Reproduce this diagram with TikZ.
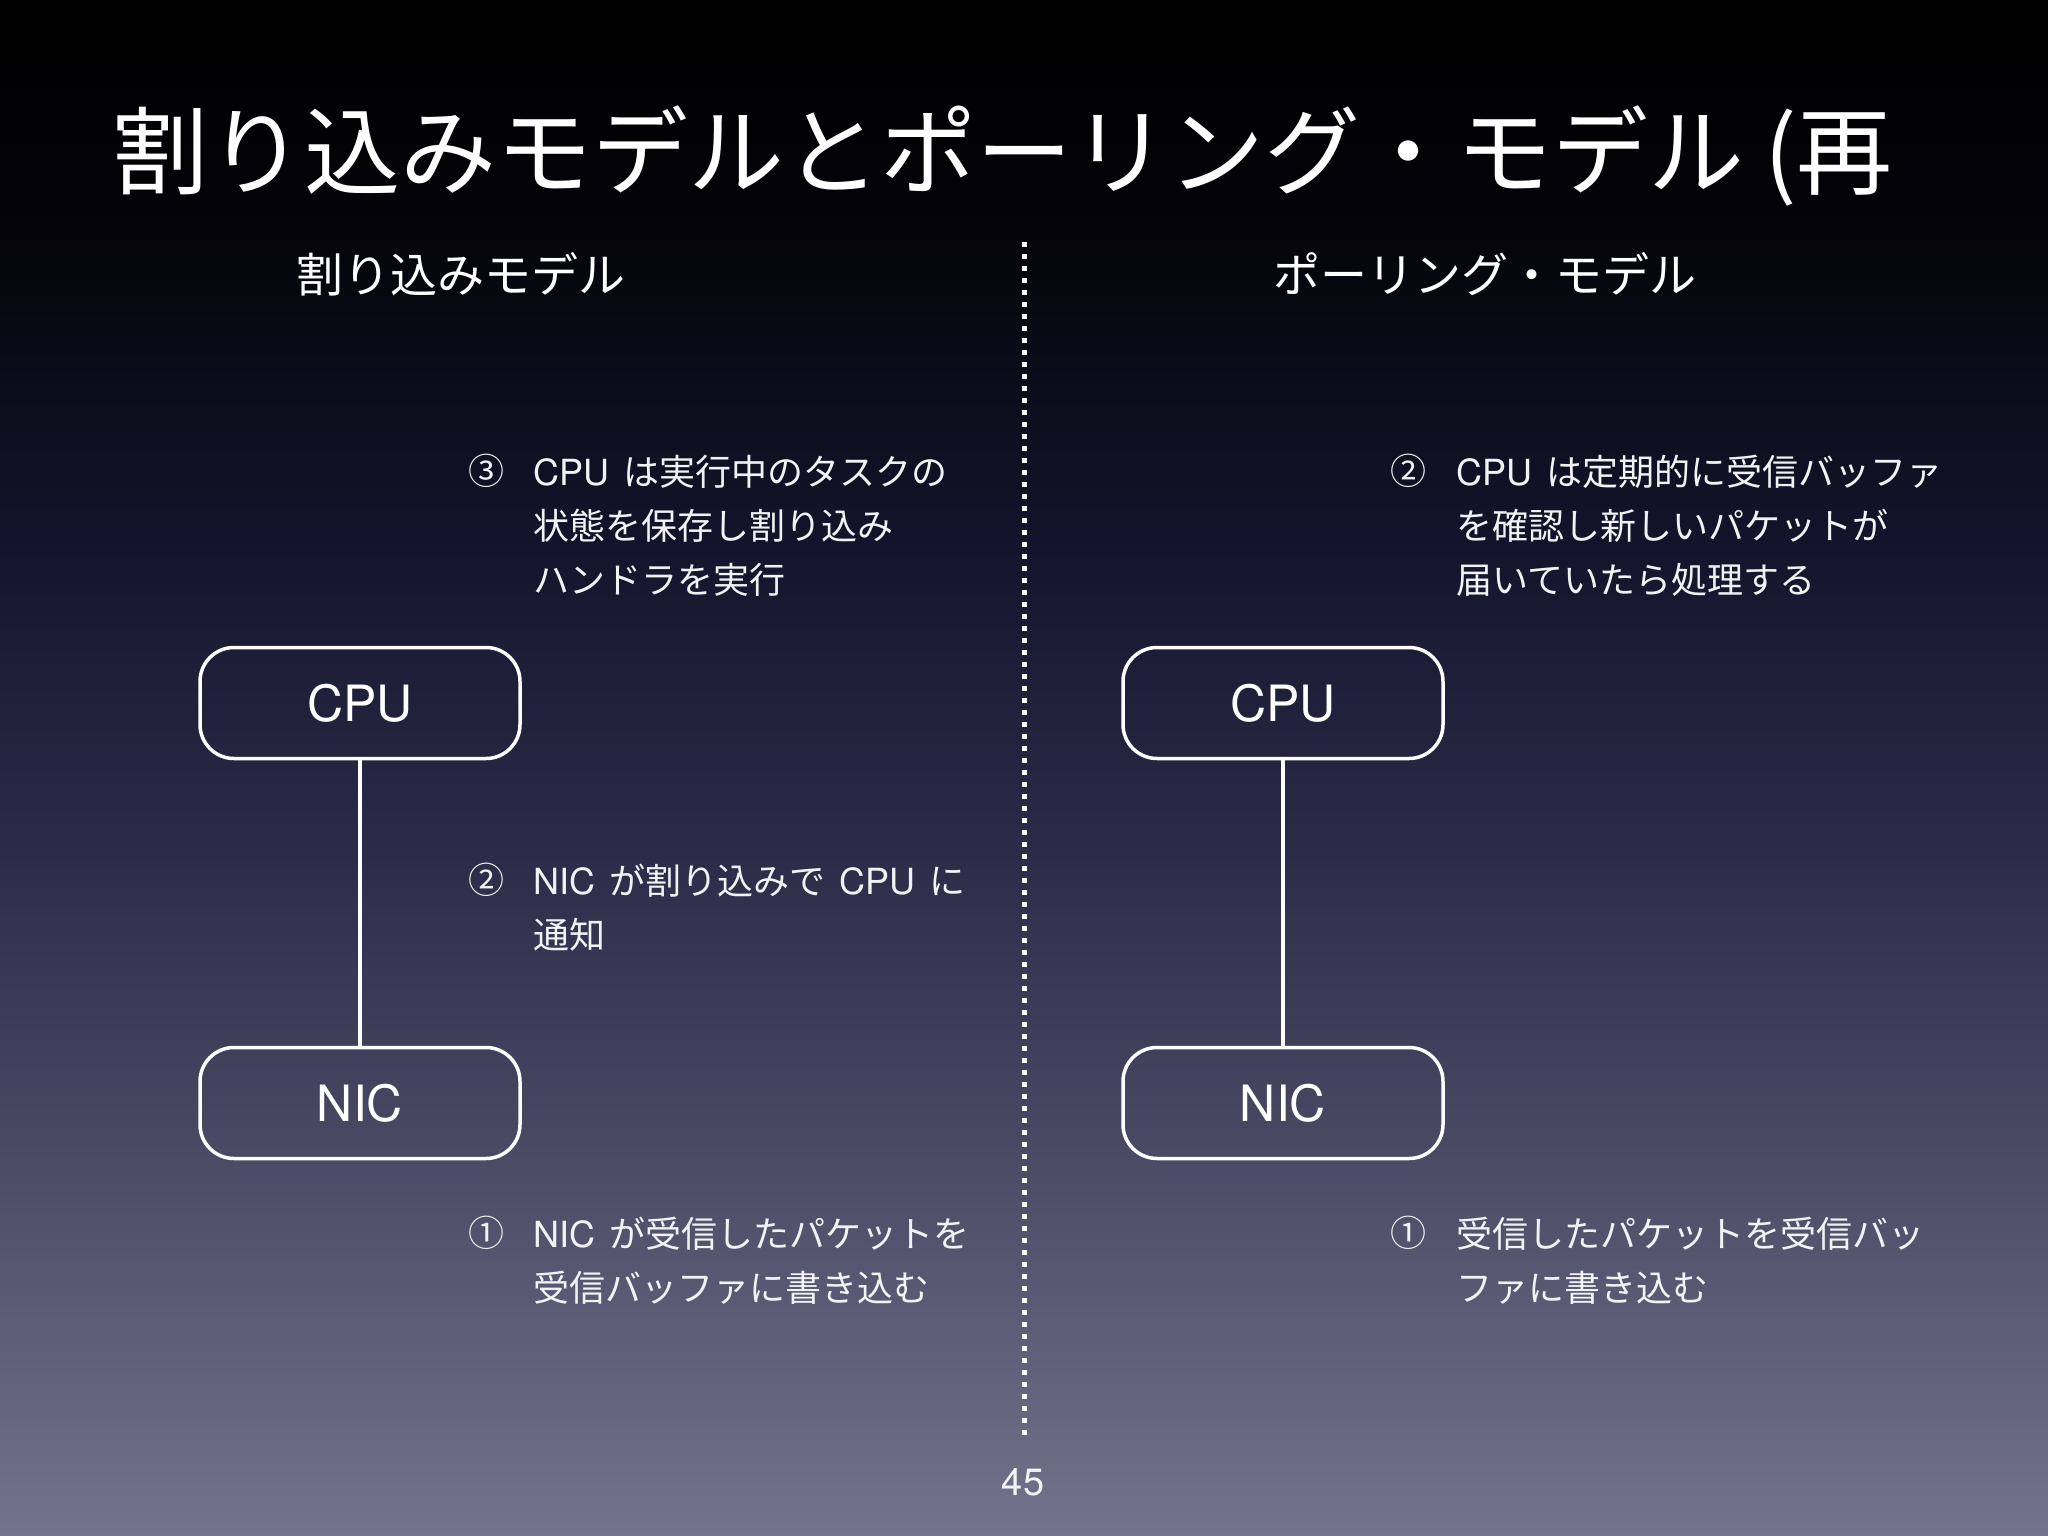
\documentclass[tikz,border=0pt]{standalone}
\usepackage{fontspec}
\setmainfont{Noto Sans CJK JP}
\newfontfamily\lat{TeX Gyre Heros}
\newcommand\gp{\hspace{14pt}}
\definecolor{bgA}{HTML}{000000}
\definecolor{bgB}{HTML}{040409}
\definecolor{bgC}{HTML}{13142B}
\definecolor{bgD}{HTML}{2B2B48}
\definecolor{bgE}{HTML}{4B4A65}
\definecolor{bgF}{HTML}{74738B}
\definecolor{txt}{HTML}{F2F2F4}
\pgfdeclareverticalshading{bgshade}{100bp}{color(0bp)=(bgF); color(25bp)=(bgF); color(37.5bp)=(bgE); color(47.5bp)=(bgD); color(57.5bp)=(bgC); color(67.5bp)=(bgB); color(75bp)=(bgA); color(100bp)=(bgA)}
\tikzset{
  box/.style={draw=white, line width=3.5pt, rounded corners=34pt, minimum width=320pt, minimum height=111pt, inner sep=0pt, text=white, font=\lat\fontsize{50}{60}\selectfont},
  ttl/.style={anchor=west, inner sep=0pt, text=white, font=\fontsize{96}{106}\selectfont},
  sub/.style={anchor=center, inner sep=0pt, text=white, font=\fontsize{47}{56}\selectfont},
  body/.style={anchor=north west, inner sep=0pt, align=left, text=txt, font=\fontsize{36}{54}\selectfont},
  num/.style={anchor=center, inner sep=0pt, text=txt, font=\fontsize{36}{54}\selectfont},
  link/.style={draw=white, line width=3.5pt},
  divider/.style={draw=white, line width=5pt, dash pattern=on 5pt off 7pt}
}
\begin{document}
\begin{tikzpicture}[x=1pt, y=-1pt]
\useasboundingbox (0,0) rectangle (2048,1536);
\shade[shading=bgshade] (0,0) rectangle (2048,1536);
\node[ttl] (title) at (112,156) {割り込みモデルとポーリング・モデル\hspace{20pt}(再};
\node[sub] (subL) at (461,274) {割り込みモデル};
\node[sub] (subR) at (1485,274) {ポーリング・モデル};
\coordinate (divT) at (1024,242);
\coordinate (divB) at (1024,1436);
\draw[divider] (divT) -- (divB);
% left
\node[box] (cpuL) at (360,703) {CPU};
\node[box] (nicL) at (360,1103) {NIC};
\draw[link] (cpuL) -- (nicL);
\node[num] (n3L) at (486,471) {③};
\node[body] (t3L) at (533,455) {{\lat CPU}\gp は実行中のタスクの\\状態を保存し割り込み\\ハンドラを実行};
\node[num] (n2L) at (486,880) {②};
\node[body] (t2L) at (533,864) {{\lat NIC}\gp が割り込みで\gp{\lat CPU}\gp に\\通知};
\node[num] (n1L) at (486,1233) {①};
\node[body] (t1L) at (533,1217) {{\lat NIC}\gp が受信したパケットを\\受信バッファに書き込む};
% right
\node[box] (cpuR) at (1283,703) {CPU};
\node[box] (nicR) at (1283,1103) {NIC};
\draw[link] (cpuR) -- (nicR);
\node[num] (n2R) at (1408,471) {②};
\node[body] (t2R) at (1456,455) {{\lat CPU}\gp は定期的に受信バッファ\\を確認し新しいパケットが\\届いていたら処理する};
\node[num] (n1R) at (1408,1233) {①};
\node[body] (t1R) at (1456,1217) {受信したパケットを受信バッ\\ファに書き込む};
\node[num, font=\lat\fontsize{38}{44}\selectfont] (page) at (1023,1482) {45};
\end{tikzpicture}
\end{document}
